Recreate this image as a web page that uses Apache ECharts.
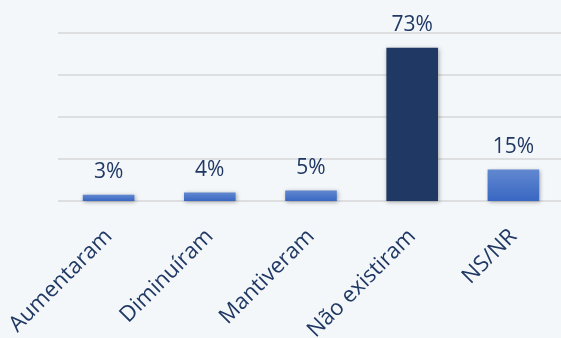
<!DOCTYPE html>
<html>
<head>
<meta charset="utf-8">
<script src="https://cdn.jsdelivr.net/npm/echarts@6/dist/echarts.min.js"></script>
<style>
  html, body { margin: 0; padding: 0; background: #f4f7fa; }
  #chart { width: 561px; height: 338px; }
</style>
</head>
<body>
<div id="chart"></div>
<script>
// Response categories and their shares (%)
const categories = ['Aumentaram', 'Diminuíram', 'Mantiveram', 'Não existiram', 'NS/NR'];
const shares = [3, 4, 5, 73, 15];
// The dominant answer is highlighted in dark navy
const highlightIndex = 3;

const textColor = '#203864';
const lightBar = new echarts.graphic.LinearGradient(0, 0, 0, 1, [
  { offset: 0, color: '#6188d0' },
  { offset: 1, color: '#3967c2' }
]);
const darkBar = '#203864';

const chart = echarts.init(document.getElementById('chart'), null, { renderer: 'canvas' });
chart.setOption({
  backgroundColor: '#f4f7fa',
  animation: false,
  grid: {
    left: 58, right: -3, top: 33, bottom: 137,
    containLabel: false,
    outerBoundsMode: 'none'
  },
  xAxis: {
    type: 'category',
    data: categories,
    axisLine: { show: false },
    axisTick: { show: false },
    axisLabel: {
      rotate: 45,
      margin: 32,
      color: textColor,
      fontFamily: 'Open Sans',
      fontSize: 22,
      interval: 0
    }
  },
  yAxis: {
    type: 'value',
    min: 0,
    max: 80,
    interval: 20,
    axisLabel: { show: false },
    axisLine: { show: false },
    axisTick: { show: false },
    splitLine: { lineStyle: { color: '#d6d6d6', width: 1.6 } }
  },
  series: [{
    type: 'bar',
    barWidth: '51%',
    data: shares.map((v, i) => ({
      value: v,
      itemStyle: { color: i === highlightIndex ? darkBar : lightBar }
    })),
    itemStyle: {
      shadowColor: 'rgba(0,0,0,0.35)',
      shadowBlur: 4,
      shadowOffsetX: 1,
      shadowOffsetY: 1
    },
    label: {
      show: true,
      position: 'top',
      distance: 12,
      formatter: '{c}%',
      color: textColor,
      fontFamily: 'Open Sans',
      fontSize: 21
    }
  }]
});
</script>
</body>
</html>
